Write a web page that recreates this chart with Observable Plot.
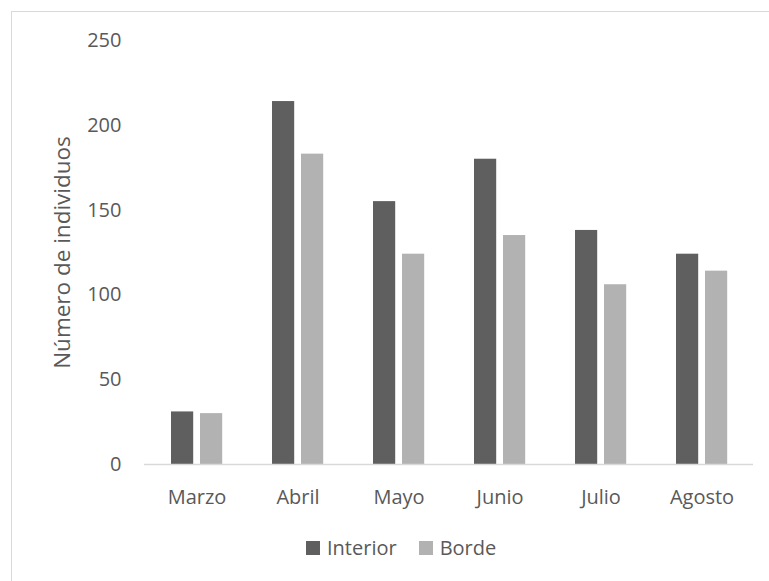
<!DOCTYPE html>
<html>
<head>
<meta charset="utf-8">
<script src="https://cdn.jsdelivr.net/npm/d3@7"></script>
<script src="https://cdn.jsdelivr.net/npm/@observablehq/plot@0.6"></script>
<style>
  html, body { margin: 0; padding: 0; background: #fff; overflow: hidden; }
  #wrap { position: relative; width: 769px; height: 581px; font-family: "Open Sans", sans-serif; }
  #frame { position: absolute; left: 11px; top: 11px; width: 800px; height: 620px; border: 1px solid #d9d9d9; box-sizing: border-box; }
  #chart { position: absolute; left: 0; top: 0; }
  #legend { position: absolute; left: 306px; top: 534px; display: flex; align-items: center; font-size: 20px; color: #595959; }
  #legend .item { display: flex; align-items: center; margin-right: 22px; }
  #legend .sw { width: 14px; height: 14px; margin-right: 7px; }
</style>
</head>
<body>
<div id="wrap">
  <div id="frame"></div>
  <div id="chart"></div>
  <div id="legend"></div>
</div>
<script>
// Número de individuos por mes, en el interior y en el borde
const meses = ["Marzo", "Abril", "Mayo", "Junio", "Julio", "Agosto"];
const interior = [31, 214, 155, 180, 138, 124];
const borde = [30, 183, 124, 135, 106, 114];
const series = ["Interior", "Borde"];
const colores = ["#5f5f5f", "#b2b2b2"];
const yTicks = [0, 50, 100, 150, 200, 250];
const tituloY = "Número de individuos";

const filasInterior = meses.map((mes, i) => ({mes, valor: interior[i]}));
const filasBorde = meses.map((mes, i) => ({mes, valor: borde[i]}));

const chart = Plot.plot({
  width: 769,
  height: 520,
  marginLeft: 144,
  marginRight: 16,
  marginTop: 40,
  marginBottom: 56,
  style: {fontFamily: "'Open Sans', sans-serif", fontSize: "20px", color: "#595959", background: "transparent"},
  x: {domain: meses, padding: 0},
  y: {domain: [0, 250]},
  marks: [
    Plot.barY(filasInterior, {x: "mes", y: "valor", fill: colores[0], insetLeft: 25, insetRight: 53.8}),
    Plot.barY(filasBorde, {x: "mes", y: "valor", fill: colores[1], insetLeft: 54, insetRight: 24.8}),
    Plot.ruleY([0], {stroke: "#d9d9d9", strokeWidth: 1.5}),
    Plot.axisY({ticks: yTicks, tickSize: 0, tickPadding: 23, label: null}),
    Plot.axisX({tickSize: 0, tickPadding: 25, label: null}),
    // título del eje vertical, girado y centrado en el área del gráfico
    Plot.text([tituloY], {frameAnchor: "left", textAnchor: "middle", lineAnchor: "middle", rotate: -90, dx: -82, fontSize: 22.5, fill: "#595959"})
  ]
});
document.getElementById("chart").appendChild(chart);

const legend = document.getElementById("legend");
series.forEach((s, i) => {
  const item = document.createElement("div");
  item.className = "item";
  const sw = document.createElement("span");
  sw.className = "sw";
  sw.style.background = colores[i];
  const t = document.createElement("span");
  t.textContent = s;
  item.appendChild(sw);
  item.appendChild(t);
  legend.appendChild(item);
});
</script>
</body>
</html>
